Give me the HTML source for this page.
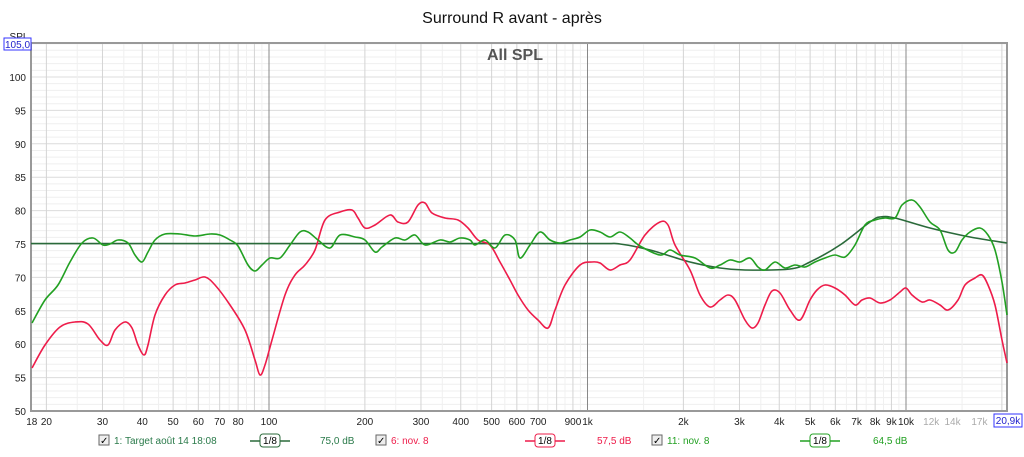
<!DOCTYPE html>
<html><head><meta charset="utf-8"><style>
body{margin:0;background:#fff;width:1024px;height:452px;overflow:hidden;font-family:"Liberation Sans",sans-serif}
</style></head><body>
<svg id="s" width="1024" height="452" xmlns="http://www.w3.org/2000/svg" font-family="Liberation Sans, sans-serif">
<rect width="1024" height="452" fill="#fff"/>
<g id="grid"></g>
<text x="512" y="23" font-size="16" text-anchor="middle" fill="#111">Surround R avant - après</text>
<text x="515" y="60" font-size="16" text-anchor="middle" fill="#555" font-weight="bold">All SPL</text>
<text x="19" y="40" font-size="10" text-anchor="middle" fill="#222">SPL</text>
<rect x="4" y="38" width="27" height="12" fill="#fff" stroke="#33f"/>
<text x="17.5" y="48" font-size="10" text-anchor="middle" fill="#22c">105,0</text>
<polyline class="c" fill="none" stroke="#2a6a3a" stroke-width="1.6" points="31,243.6 500,243.6 600,243.6 620,244 650,250 690,262 720,268 745,270 790,269 810,262 840,245 870,222 880,217 895,218 930,228 970,237 1007,243"/>
<polyline class="c" fill="none" stroke="#ee1c4a" stroke-width="1.6" points="32,368 45,345 60,327 75,322 88,324 100,340 108,345 115,330 125,322 132,328 138,345 144,355 148,345 155,315 165,295 175,285 185,283 195,280 205,277 215,285 230,305 245,330 255,360 260,375 265,365 272,340 285,295 295,275 305,265 315,250 325,220 340,212 352,210 358,218 365,228 375,225 390,215 398,222 408,222 418,205 425,203 432,213 445,218 458,220 468,228 478,240 490,245 500,262 510,280 518,295 528,310 538,320 548,328 555,310 565,285 580,265 592,262 600,263 610,270 620,265 630,260 645,235 660,222 668,225 675,245 690,270 700,295 710,307 720,300 728,295 735,300 745,320 752,328 758,323 765,305 772,291 780,293 790,310 800,320 810,300 817,290 825,285 835,288 845,295 855,305 862,300 870,298 880,303 890,300 900,292 906,288 912,295 922,302 930,300 940,305 948,310 958,300 965,285 975,278 982,275 988,285 995,305 1002,340 1007,363"/>
<polyline class="c" fill="none" stroke="#22a022" stroke-width="1.6" points="32,323 45,300 58,285 70,262 82,243 93,238 103,245 110,244 118,240 128,243 135,255 142,262 148,252 155,240 165,234 180,234 195,236 210,234 220,235 230,240 238,246 248,265 255,271 262,265 270,258 280,258 290,245 300,232 308,232 318,240 330,248 340,235 355,237 365,240 375,252 382,247 395,238 405,240 415,235 425,245 440,240 450,242 460,238 470,240 475,245 485,240 495,248 505,235 515,240 520,258 530,245 540,232 550,240 560,243 570,240 580,237 590,230 600,232 610,237 620,232 630,238 640,246 660,255 670,250 680,255 695,258 710,268 720,265 730,260 740,262 750,258 758,267 765,270 775,262 785,268 795,265 805,267 815,262 825,258 835,255 845,257 855,245 865,225 875,220 885,218 895,218 902,205 912,200 920,207 930,222 940,230 948,250 955,252 962,240 970,232 980,228 988,235 995,250 1002,282 1007,315"/>
<g id="lab"></g>
<g font-size="10">
<rect x="99" y="435" width="10" height="10" fill="#eee" stroke="#666"/><text x="100" y="444" font-size="10">✓</text>
<text x="114" y="444" fill="#2a7a4a">1: Target août 14 18:08</text>
<line x1="250" y1="441" x2="290" y2="441" stroke="#2a6a3a" stroke-width="1.5"/><rect x="260" y="434" width="20" height="13" rx="3" fill="#fff" stroke="#2a6a3a"/><text x="270" y="444" text-anchor="middle">1/8</text>
<text x="320" y="444" fill="#2a7a4a">75,0 dB</text>
<rect x="376" y="435" width="10" height="10" fill="#eee" stroke="#666"/><text x="377" y="444">✓</text>
<text x="391" y="444" fill="#ee1c4a">6: nov. 8</text>
<line x1="525" y1="441" x2="565" y2="441" stroke="#ee1c4a" stroke-width="1.5"/><rect x="535" y="434" width="20" height="13" rx="3" fill="#fff" stroke="#ee1c4a"/><text x="545" y="444" text-anchor="middle">1/8</text>
<text x="597" y="444" fill="#ee1c4a">57,5 dB</text>
<rect x="652" y="435" width="10" height="10" fill="#eee" stroke="#666"/><text x="653" y="444">✓</text>
<text x="667" y="444" fill="#22a022">11: nov. 8</text>
<line x1="800" y1="441" x2="840" y2="441" stroke="#22a022" stroke-width="1.5"/><rect x="810" y="434" width="20" height="13" rx="3" fill="#fff" stroke="#22a022"/><text x="820" y="444" text-anchor="middle">1/8</text>
<text x="873" y="444" fill="#22a022">64,5 dB</text>
</g>
</svg>
<script>
const NS="http://www.w3.org/2000/svg";
const g=document.getElementById('grid'),lab=document.getElementById('lab');
function el(p,t,a,txt){const e=document.createElementNS(NS,t);for(const k in a)e.setAttribute(k,a[k]);if(txt!==undefined)e.textContent=txt;p.appendChild(e);return e;}
const X=f=>269+318.5*(Math.log10(f)-2), Y=d=>411-(d-50)*6.68;
const L=31,R=1007,T=43,B=411;
for(let d=50;d<=105;d++){const y=Y(d);el(g,'line',{x1:L,x2:R,y1:y,y2:y,stroke:d%5?'#efefef':'#dcdcdc','stroke-width':1});
 if(d%5==0&&d<105)el(lab,'text',{x:26,y:y+4,'font-size':10,'text-anchor':'end',fill:'#222'},d);}
const fr=[];
for(let dec of [10,100,1000,10000]){for(let m=1;m<10;m+=0.5){const f=m*dec;if(f>=18&&f<=20900)fr.push(f);}}
fr.forEach(f=>{const x=X(f);const maj=Number.isInteger(f/(f>=10000?10000:f>=1000?1000:f>=100?100:10));
 let c=maj?'#d4d4d4':'#f0f0f0';if(f==100||f==1000||f==10000)c='#888';
 el(g,'line',{x1:x,x2:x,y1:T,y2:B,stroke:c,'stroke-width':1});});
el(g,'rect',{x:L,y:T,width:R-L,height:B-T,fill:'none',stroke:'#999','stroke-width':2});
const labs=[[18,'18'],[20,'20'],[30,'30'],[40,'40'],[50,'50'],[60,'60'],[70,'70'],[80,'80'],[100,'100'],[200,'200'],[300,'300'],[400,'400'],[500,'500'],[600,'600'],[700,'700'],[900,'900'],[1000,'1k'],[2000,'2k'],[3000,'3k'],[4000,'4k'],[5000,'5k'],[6000,'6k'],[7000,'7k'],[8000,'8k'],[9000,'9k'],[10000,'10k'],[12000,'12k'],[14000,'14k'],[17000,'17k']];
labs.forEach(([f,t])=>el(lab,'text',{x:X(f),y:425,'font-size':10,'text-anchor':'middle',fill:f>10000?'#aaa':'#222'},t));
el(lab,'rect',{x:994,y:414,width:28,height:13,fill:'#fff',stroke:'#33f'});
el(lab,'text',{x:1008,y:424,'font-size':10,'text-anchor':'middle',fill:'#22c'},'20,9k');
document.querySelectorAll('polyline.c').forEach(pl=>{
 const p=pl.getAttribute('points').trim().split(/\s+/).map(s=>s.split(',').map(Number));
 let d='M'+p[0].join(',');
 for(let i=0;i<p.length-1;i++){const a=p[i-1]||p[i],b=p[i],c=p[i+1],e=p[i+2]||c;
  d+=` C${b[0]+(c[0]-a[0])/6},${b[1]+(c[1]-a[1])/6} ${c[0]-(e[0]-b[0])/6},${c[1]-(e[1]-b[1])/6} ${c[0]},${c[1]}`;}
 const path=el(pl.parentNode,'path',{d:d,fill:'none',stroke:pl.getAttribute('stroke'),'stroke-width':1.6,'stroke-linejoin':'round'});
 pl.parentNode.insertBefore(path,pl);pl.remove();});
</script>
</body></html>
